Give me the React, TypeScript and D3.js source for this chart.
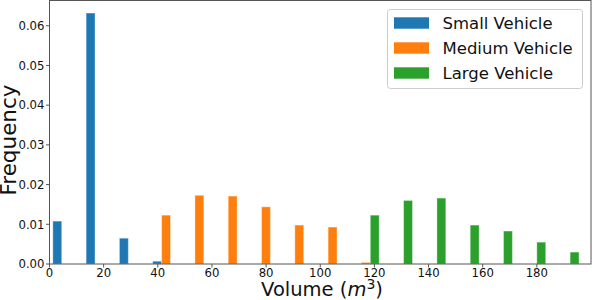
import React from 'react'
import * as d3 from 'd3'

const width = 594
const height = 300

const plot = { left: 49.5, right: 591, top: 0.5, bottom: 264 }

// histogram bins (left edges), width shared by all bins
const binEdges = [0, 12.3, 24.6, 36.9, 49.2, 61.5, 73.8, 86.1, 98.4, 110.7, 123, 135.3, 147.6, 159.9, 172.2, 184.5]
const binWidth = 12.3

const series = ['Small Vehicle', 'Medium Vehicle', 'Large Vehicle']
const colors = ['#1f77b4', '#ff7f0e', '#2ca02c']

const smallFreq = [0.0108, 0.0632, 0.0065, 0.0007, 0, 0, 0, 0, 0, 0, 0, 0, 0, 0, 0, 0]
const mediumFreq = [0, 0, 0, 0.0123, 0.0173, 0.0171, 0.0144, 0.0098, 0.0093, 0.0004, 0, 0, 0, 0, 0, 0]
const largeFreq = [0, 0, 0, 0, 0, 0, 0, 0, 0, 0.0123, 0.016, 0.0166, 0.0098, 0.0083, 0.0055, 0.003]

const xTicks = [0, 20, 40, 60, 80, 100, 120, 140, 160, 180]
const yTicks = [0, 0.01, 0.02, 0.03, 0.04, 0.05, 0.06]

const font = 'DejaVu Sans, sans-serif'

export default function App() {
  const allSeries = [smallFreq, mediumFreq, largeFreq]

  const x = d3.scaleLinear().domain([0, 200]).range([plot.left, plot.right])
  const y = d3
    .scaleLinear()
    .domain([0, d3.max(allSeries.flat()) * 1.05])
    .range([plot.bottom, plot.top])

  // matplotlib style: 80% of the bin shared by the series, 10% pad each side
  const barW = (binWidth * 0.8) / series.length

  return (
    <svg
      width={width}
      height={height}
      style={{ position: 'absolute', left: 0, top: 0, background: 'white' }}
    >
      {allSeries.map((vals, s) =>
        vals.map((v, i) =>
          v > 0 ? (
            <rect
              key={'b' + s + '-' + i}
              x={x(binEdges[i] + binWidth * 0.1 + s * barW)}
              y={y(v)}
              width={x(barW) - x(0)}
              height={y(0) - y(v)}
              fill={colors[s]}
              stroke="white"
              strokeOpacity={0.35}
              strokeWidth={1}
            />
          ) : null
        )
      )}

      {/* spines */}
      <rect
        x={plot.left}
        y={plot.top}
        width={plot.right - plot.left}
        height={plot.bottom - plot.top}
        fill="none"
        stroke="#555"
        strokeWidth={1}
      />

      {xTicks.map((t) => (
        <g key={'xt' + t}>
          <line x1={x(t)} x2={x(t)} y1={plot.bottom} y2={plot.bottom + 3.5} stroke="#555" />
          <text
            x={x(t)}
            y={plot.bottom + 12.5}
            textAnchor="middle"
            style={{ fontFamily: font, fontSize: '11.7px', fill: '#111' }}
          >
            {t}
          </text>
        </g>
      ))}

      {yTicks.map((t) => (
        <g key={'yt' + t}>
          <line x1={plot.left - 3.5} x2={plot.left} y1={y(t)} y2={y(t)} stroke="#555" />
          <text
            x={plot.left - 5}
            y={y(t)}
            dy="0.36em"
            textAnchor="end"
            style={{ fontFamily: font, fontSize: '11.7px', fill: '#111' }}
          >
            {t.toFixed(2)}
          </text>
        </g>
      ))}

      <text
        x={322}
        y={295.5}
        textAnchor="middle"
        style={{ fontFamily: font, fontSize: '19.5px', fill: '#111' }}
      >
        Volume (<tspan fontStyle="italic">m</tspan>
        <tspan dy="-7" fontSize="14px">3</tspan>
        <tspan dy="7">)</tspan>
      </text>

      <text
        transform="translate(16, 140) rotate(-90)"
        textAnchor="middle"
        style={{ fontFamily: font, fontSize: '21.5px', fill: '#111' }}
      >
        Frequency
      </text>

      <g>
        <rect
          x={387.5}
          y={9.5}
          width={195}
          height={79}
          rx={3}
          fill="white"
          fillOpacity={0.8}
          stroke="#ccc"
        />
        {series.map((name, i) => (
          <g key={name} transform={`translate(394, ${23 + i * 25})`}>
            <rect x={0} y={-5.7} width={35} height={11.4} fill={colors[i]} />
            <text
              x={48.5}
              y={0}
              dy="0.36em"
              style={{ fontFamily: font, fontSize: '16.5px', fill: '#111' }}
            >
              {name}
            </text>
          </g>
        ))}
      </g>
    </svg>
  )
}
